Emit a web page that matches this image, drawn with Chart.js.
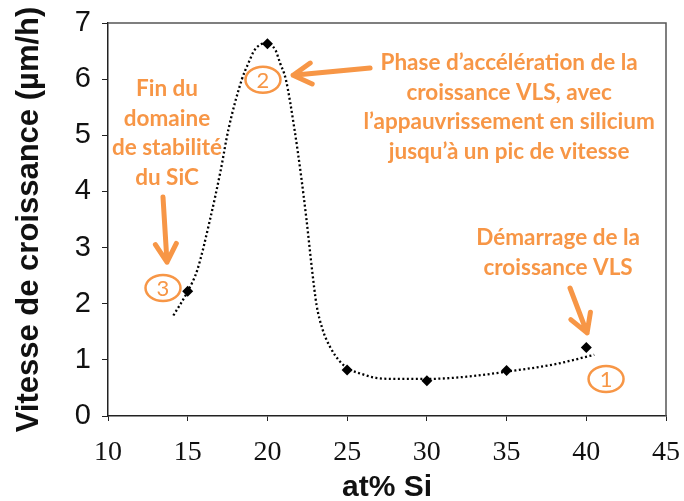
<!DOCTYPE html>
<html lang="fr">
<head>
<meta charset="utf-8">
<title>Vitesse de croissance en fonction de at% Si</title>
<script src="https://cdn.jsdelivr.net/npm/chart.js@4.4.1/dist/chart.umd.min.js"></script>
<style>
  html, body { margin: 0; padding: 0; background: #fff; }
  #wrap { width: 684px; height: 501px; position: relative; }
</style>
</head>
<body>
<div id="wrap"><canvas id="growth-chart"></canvas></div>
<script>
// Measured points: Si content (at%) vs growth rate (µm/h)
const siContent = [15, 20, 25, 30, 35, 40];
const growthRate = [2.22, 6.63, 0.82, 0.63, 0.81, 1.22];

// Dotted trend curve through the measurements
const trendSi = [14.1, 15.0, 15.6, 16.4, 17.05, 17.55, 18.4, 18.8, 19.2, 19.85, 20.5, 20.8, 21.15, 21.7, 22.1, 22.45, 22.8, 23.08, 23.45, 23.93, 24.55, 25.1, 26.0, 26.8, 28.0, 30.0, 32.5, 35.0, 38.0, 40.5];
const trendRate = [1.79, 2.22, 2.6, 3.5, 4.35, 5.1, 6.0, 6.28, 6.52, 6.64, 6.52, 6.28, 6.0, 5.1, 4.3, 3.5, 2.6, 1.98, 1.55, 1.23, 0.97, 0.84, 0.74, 0.68, 0.66, 0.66, 0.7, 0.79, 0.92, 1.09];

// Axis ranges
const xRange = [10, 45];
const yRange = [0, 7];

// Orange call-outs (anchored in data units)
const ORANGE = '#F79646';
const noteBlocks = [
    { x: 35.16, y: 6.29, lines: ['Phase d’accélération de la', 'croissance VLS, avec', 'l’appauvrissement en silicium', 'jusqu’à un pic de vitesse'] },
    { x: 13.70, y: 5.82, lines: ['Fin du', 'domaine', 'de stabilité', 'du SiC'] },
    { x: 38.23, y: 3.17, lines: ['Démarrage de la', 'croissance VLS'] }
];
const stepLabels = [
    { x: 19.72, y: 5.99, text: '2' },
    { x: 13.45, y: 2.28, text: '3' },
    { x: 41.24, y: 0.66, text: '1' }
];
const arrows = [
    { from: [26.44, 6.20], to: [21.61, 6.07] },
    { from: [13.45, 3.90], to: [13.70, 2.74] },
    { from: [38.98, 2.28], to: [40.05, 1.48] }
];

const points = siContent.map((x, i) => ({ x: x, y: growthRate[i] }));
const trend = trendSi.map((x, i) => ({ x: x, y: trendRate[i] }));

// Closes the frame on the top and right sides
const frameBox = {
    id: 'frameBox',
    beforeDatasetsDraw(chart) {
        const { ctx, chartArea: a } = chart;
        ctx.save();
        ctx.strokeStyle = '#555';
        ctx.lineWidth = 1.5;
        ctx.beginPath();
        ctx.moveTo(a.left, a.top);
        ctx.lineTo(a.right, a.top);
        ctx.lineTo(a.right, a.bottom);
        ctx.stroke();
        ctx.restore();
    }
};

function drawArrow(ctx, x1, y1, x2, y2) {
    const ang = Math.atan2(y2 - y1, x2 - x1);
    const head = 21, spread = Math.PI / 6;
    ctx.beginPath();
    ctx.moveTo(x1, y1);
    ctx.lineTo(x2, y2);
    ctx.moveTo(x2 - head * Math.cos(ang - spread), y2 - head * Math.sin(ang - spread));
    ctx.lineTo(x2, y2);
    ctx.lineTo(x2 - head * Math.cos(ang + spread), y2 - head * Math.sin(ang + spread));
    ctx.stroke();
}

const callouts = {
    id: 'callouts',
    afterDatasetsDraw(chart) {
        const { ctx, scales: { x, y } } = chart;
        ctx.save();
        ctx.fillStyle = ORANGE;
        ctx.strokeStyle = ORANGE;
        ctx.textAlign = 'center';
        ctx.textBaseline = 'middle';

        ctx.font = 'bold 22.5px Lato';
        noteBlocks.forEach(b => {
            const px = x.getPixelForValue(b.x);
            const py = y.getPixelForValue(b.y);
            b.lines.forEach((line, i) => ctx.fillText(line, px, py + i * 29.5));
        });

        ctx.lineWidth = 2.5;
        ctx.font = '22px Lato';
        stepLabels.forEach(s => {
            const px = x.getPixelForValue(s.x);
            const py = y.getPixelForValue(s.y);
            ctx.beginPath();
            ctx.ellipse(px, py, 17.5, 13, 0, 0, Math.PI * 2);
            ctx.stroke();
            ctx.fillText(s.text, px, py + 1);
        });

        ctx.lineWidth = 5;
        ctx.lineCap = 'round';
        ctx.lineJoin = 'round';
        arrows.forEach(a => {
            drawArrow(ctx,
                x.getPixelForValue(a.from[0]), y.getPixelForValue(a.from[1]),
                x.getPixelForValue(a.to[0]), y.getPixelForValue(a.to[1]));
        });
        ctx.restore();
    }
};

const ctx = document.getElementById('growth-chart').getContext('2d');
new Chart(ctx, {
    type: 'scatter',
    data: {
        datasets: [
            {
                label: 'Tendance',
                data: trend,
                showLine: true,
                borderColor: '#000',
                borderWidth: 2.3,
                borderDash: [2, 2.5],
                cubicInterpolationMode: 'monotone',
                pointRadius: 0,
                order: 2
            },
            {
                label: 'Vitesse mesurée',
                data: points,
                pointStyle: 'rectRot',
                pointRadius: 5.5,
                backgroundColor: '#000',
                borderColor: '#000',
                borderWidth: 0,
                order: 1
            }
        ]
    },
    options: {
        responsive: true,
        maintainAspectRatio: false,
        animation: false,
        devicePixelRatio: 1,
        layout: { padding: { top: 23, right: 18, left: 0, bottom: 0 } },
        plugins: {
            legend: { display: false },
            tooltip: { enabled: false }
        },
        scales: {
            x: {
                type: 'linear',
                min: xRange[0],
                max: xRange[1],
                afterFit: s => {
                    s.height = 85;
                    s.paddingLeft = 0;
                    s.paddingRight = 0;
                },
                ticks: {
                    stepSize: 5,
                    color: '#111',
                    padding: 15,
                    font: { family: 'Liberation Serif', size: 28 }
                },
                grid: { drawOnChartArea: false, tickLength: 5, color: '#222' },
                border: { color: '#222', width: 1.5 },
                title: {
                    display: true,
                    text: 'at% Si',
                    color: '#111',
                    padding: { top: 0, bottom: 0 },
                    font: { family: 'Liberation Sans', size: 30, weight: 'bold', lineHeight: 0.9 }
                }
            },
            y: {
                type: 'linear',
                min: yRange[0],
                max: yRange[1],
                afterFit: s => {
                    s.width = 108;
                    s.paddingTop = 0;
                    s.paddingBottom = 0;
                },
                ticks: {
                    stepSize: 1,
                    color: '#111',
                    padding: 11,
                    font: { family: 'Liberation Sans', size: 29 }
                },
                grid: { drawOnChartArea: false, tickLength: 6, color: '#222' },
                border: { color: '#222', width: 1.5 },
                title: {
                    display: true,
                    text: 'Vitesse de croissance (µm/h)',
                    color: '#111',
                    padding: { top: 11, bottom: 0 },
                    font: { family: 'Liberation Sans', size: 31, weight: 'bold', lineHeight: 1.2 }
                }
            }
        }
    },
    plugins: [frameBox, callouts]
});
</script>
</body>
</html>
